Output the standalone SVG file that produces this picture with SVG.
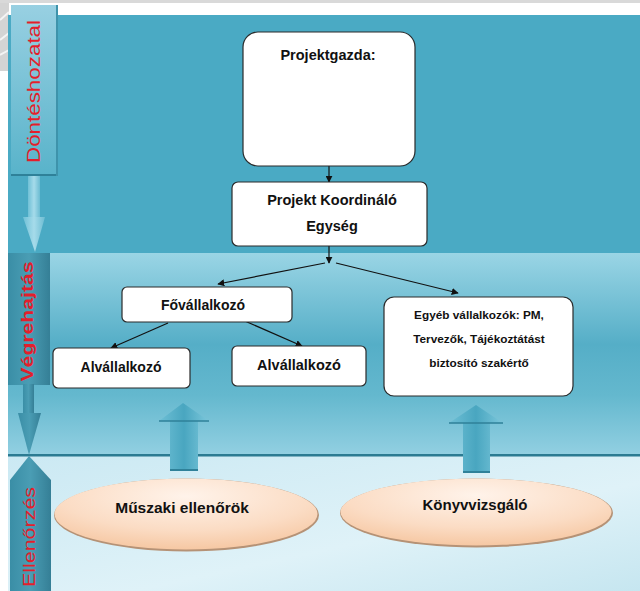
<svg xmlns="http://www.w3.org/2000/svg" width="640" height="591" viewBox="0 0 640 591">
<defs>
<style>
.box{fill:#ffffff;stroke:#2b2b2b;stroke-width:1.2}
.t{font-family:"Liberation Sans",Arial,sans-serif;fill:#111;text-anchor:middle}
.b{font-weight:bold}
.side{font-family:"Liberation Sans",Arial,sans-serif;fill:#e41e2b;text-anchor:middle}
.con{stroke:#111;stroke-width:1.2;fill:none}
</style>
<marker id="ah" viewBox="0 0 10 10" refX="9" refY="5" markerWidth="7" markerHeight="7" markerUnits="userSpaceOnUse" orient="auto">
<path d="M0,0 L10,5 L0,10 z" fill="#111"/>
</marker>
<linearGradient id="gMid" x1="0" y1="0" x2="0" y2="1">
<stop offset="0" stop-color="#9ad5e5"/>
<stop offset="0.45" stop-color="#55aec7"/>
<stop offset="0.7" stop-color="#64b8ce"/>
<stop offset="1" stop-color="#93d0e2"/>
</linearGradient>
<linearGradient id="gBot" x1="0" y1="0" x2="1" y2="1">
<stop offset="0" stop-color="#cbe9f3"/>
<stop offset="0.6" stop-color="#dff2f8"/>
<stop offset="1" stop-color="#c6e6f0"/>
</linearGradient>
<linearGradient id="gTab1" x1="0" y1="0" x2="0" y2="1">
<stop offset="0" stop-color="#98d0e2"/>
<stop offset="1" stop-color="#58b3ca"/>
</linearGradient>
<linearGradient id="gShaft" x1="0" y1="0" x2="1" y2="0">
<stop offset="0" stop-color="#6fc0d6"/>
<stop offset="0.5" stop-color="#a6dbea"/>
<stop offset="1" stop-color="#6cbcd2"/>
</linearGradient>
<linearGradient id="gDark" x1="0" y1="0" x2="1" y2="0">
<stop offset="0" stop-color="#3a8ea6"/>
<stop offset="0.5" stop-color="#4a9db4"/>
<stop offset="1" stop-color="#357f96"/>
</linearGradient>
<linearGradient id="gUp" x1="0" y1="0" x2="1" y2="0">
<stop offset="0" stop-color="#6ebfd5"/>
<stop offset="0.5" stop-color="#49a6c0"/>
<stop offset="1" stop-color="#7cc7db"/>
</linearGradient>
<radialGradient id="gEll" cx="0.5" cy="0.25" r="0.8">
<stop offset="0" stop-color="#fff3ea"/>
<stop offset="0.6" stop-color="#fbdcc4"/>
<stop offset="1" stop-color="#f5c49d"/>
</radialGradient>
</defs>

<!-- page background -->
<rect x="0" y="0" width="640" height="591" fill="#ffffff"/>
<rect x="0" y="0" width="640" height="3" fill="#d9d9d9"/>
<g id="corner">
<rect x="0" y="3" width="9" height="68" fill="#d4d4d4"/>
<path d="M0,20 L9,12 M0,40 L9,33 M0,55 L9,50" stroke="#f4f4f4" stroke-width="2"/>
</g>

<!-- bands -->
<g id="bands">
<rect x="8" y="15" width="632" height="239" fill="#4aaac4"/>
<rect x="8" y="253" width="632" height="203" fill="url(#gMid)"/>
<rect x="8" y="456" width="632" height="135" fill="url(#gBot)"/>
<rect x="8" y="454" width="632" height="2.5" fill="#2b7b92"/>
</g>

<!-- side labels -->
<g id="phase-donteshozatal">
<rect x="28" y="174" width="12" height="46" fill="url(#gShaft)"/>
<path d="M23,217 L45,217 L35,252 Z" fill="url(#gShaft)"/>
<rect x="11" y="5" width="47" height="171" fill="url(#gTab1)"/>
<rect x="11" y="174" width="47" height="2" fill="#2f8199"/>
<rect x="56" y="5" width="2" height="171" fill="#3e93ab"/>
<text class="side" font-size="19" textLength="143" lengthAdjust="spacingAndGlyphs" transform="translate(39.5,91.5) rotate(-90)">Döntéshozatal</text>
</g>

<g id="phase-vegrehajtas">
<rect x="8" y="253" width="42" height="132" fill="url(#gDark)"/>
<rect x="23" y="384" width="11" height="32" fill="url(#gDark)"/>
<path d="M18,413 L41,413 L29,455 Z" fill="url(#gDark)"/>
<text class="side b" font-size="17" textLength="120" lengthAdjust="spacingAndGlyphs" transform="translate(33,321.5) rotate(-90)">Végrehajtás</text>
</g>

<g id="phase-ellenorzes">
<path d="M10,480 L29,456 L51,480 L51,591 L10,591 Z" fill="url(#gDark)"/>
<text class="side" font-size="17" textLength="100" lengthAdjust="spacingAndGlyphs" transform="translate(35,537) rotate(-90)">Ellenőrzés</text>
</g>

<!-- connectors -->
<g id="connectors">
<line class="con" x1="329" y1="166" x2="329" y2="182" marker-end="url(#ah)"/>
<line class="con" x1="329" y1="246" x2="329" y2="263" marker-end="url(#ah)"/>
<line class="con" x1="325" y1="263" x2="218" y2="284" marker-end="url(#ah)"/>
<line class="con" x1="336" y1="263" x2="458" y2="293" marker-end="url(#ah)"/>
<line class="con" x1="168" y1="323" x2="111" y2="348" marker-end="url(#ah)"/>
<line class="con" x1="238" y1="318" x2="302" y2="346" marker-end="url(#ah)"/>
</g>

<!-- upward arrows -->
<g id="up-arrows">
<path d="M170,421 L159,421 L183,403 L209,421 L198,421 L198,470 L170,470 Z" fill="url(#gUp)"/>
<path d="M170,469 L198,469 L198,471 L170,471 Z" fill="#2f8199"/>
<path d="M159,421 L209,421" stroke="#2f8199" stroke-width="1.5"/>
<path d="M463,423 L449,423 L476,405 L503,423 L490,423 L490,472 L463,472 Z" fill="url(#gUp)"/>
<path d="M463,471 L490,471 L490,473 L463,473 Z" fill="#2f8199"/>
<path d="M449,423 L503,423" stroke="#2f8199" stroke-width="1.5"/>
</g>

<!-- nodes -->
<g id="projektgazda">
<rect class="box" x="243" y="32" width="172" height="134" rx="15"/>
<text class="t b" x="328" y="60" font-size="14.5">Projektgazda:</text>
</g>

<g id="koordinalo">
<rect class="box" x="232" y="182" width="195" height="64" rx="6"/>
<text class="t b" x="332" y="205" font-size="14.5">Projekt Koordináló</text>
<text class="t b" x="332" y="231" font-size="14.5">Egység</text>
</g>

<g id="fovallalkozo">
<rect class="box" x="122" y="287" width="170" height="35" rx="5"/>
<text class="t b" x="203" y="310" font-size="14">Fővállalkozó</text>
</g>

<g id="alvallalkozo1">
<rect class="box" x="53" y="348" width="137" height="40" rx="5"/>
<text class="t b" x="121" y="372" font-size="14">Alvállalkozó</text>
</g>

<g id="alvallalkozo2">
<rect class="box" x="232" y="346" width="134" height="40" rx="5"/>
<text class="t b" x="299" y="370" font-size="14.5">Alvállalkozó</text>
</g>

<g id="egyeb">
<rect class="box" x="384" y="297" width="189" height="99" rx="10"/>
<text class="t b" x="479" y="319" font-size="11.8">Egyéb vállalkozók: PM,</text>
<text class="t b" x="479" y="343" font-size="11.8">Tervezők, Tájékoztátást</text>
<text class="t b" x="479" y="367" font-size="11.8">biztosító szakértő</text>
</g>

<g id="muszaki">
<ellipse cx="186.5" cy="515" rx="132.5" ry="36.5" fill="#b59276"/>
<ellipse cx="186" cy="514" rx="131.5" ry="35.5" fill="url(#gEll)"/>
<text class="t b" x="182" y="513" font-size="15.5">Műszaki ellenőrök</text>
</g>

<g id="konyvvizsgalo">
<ellipse cx="476.5" cy="513" rx="136.5" ry="34.5" fill="#b59276"/>
<ellipse cx="476" cy="512" rx="135.5" ry="33.5" fill="url(#gEll)"/>
<text class="t b" x="475" y="510" font-size="15">Könyvvizsgáló</text>
</g>
</svg>
